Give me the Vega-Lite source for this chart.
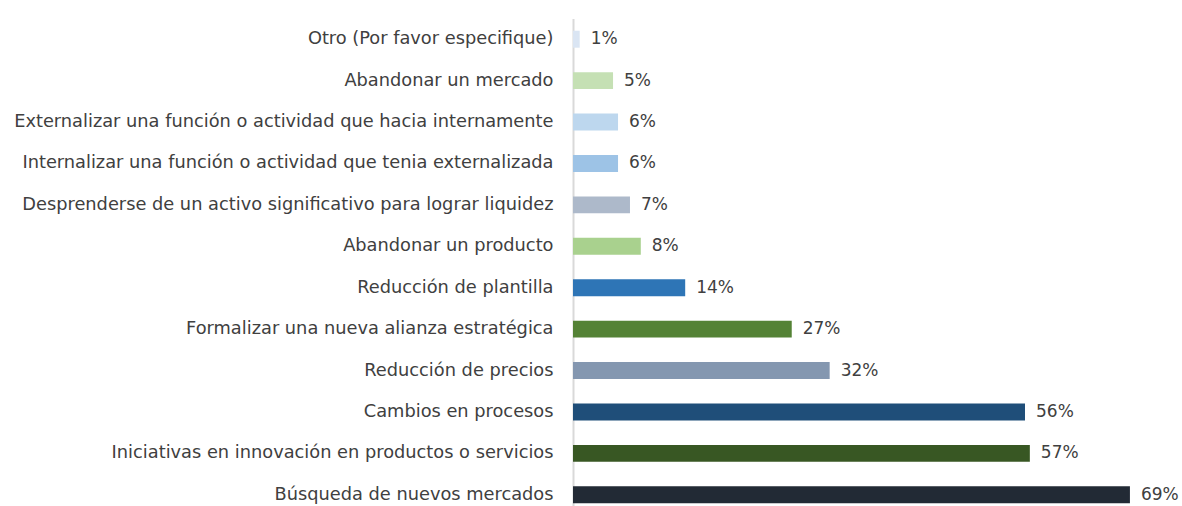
{
  "$schema": "https://vega.github.io/schema/vega-lite/v6.json",
  "width": 565,
  "height": 497,
  "autosize": {"type": "none"},
  "padding": {"left": 573, "top": 18.5, "right": 44, "bottom": 0},
  "background": "white",
  "config": {"view": {"stroke": null}, "font": "DejaVu Sans"},
  "data": {
    "values": [
      {"item": "Otro (Por favor especifique)", "value": 0.0083},
      {"item": "Abandonar un mercado", "value": 0.0496},
      {"item": "Externalizar una función o actividad que hacia internamente", "value": 0.0558},
      {"item": "Internalizar una función o actividad que tenia externalizada", "value": 0.0558},
      {"item": "Desprenderse de un activo significativo para lograr liquidez", "value": 0.0706},
      {"item": "Abandonar un producto", "value": 0.084},
      {"item": "Reducción de plantilla", "value": 0.139},
      {"item": "Formalizar una nueva alianza estratégica", "value": 0.271},
      {"item": "Reducción de precios", "value": 0.318},
      {"item": "Cambios en procesos", "value": 0.56},
      {"item": "Iniciativas en innovación en productos o servicios", "value": 0.566},
      {"item": "Búsqueda de nuevos mercados", "value": 0.69}
    ]
  },
  "encoding": {
    "y": {
      "field": "item",
      "type": "nominal",
      "sort": null,
      "scale": {"paddingInner": 0.59, "paddingOuter": 0.295},
      "axis": {
        "title": null,
        "ticks": false,
        "domainColor": "#d9d9d9",
        "domainWidth": 2,
        "labelFontSize": 17.8,
        "labelColor": "#404040",
        "labelPadding": 20,
        "labelLimit": 600,
        "labelFont": "DejaVu Sans"
      }
    },
    "x": {
      "field": "value",
      "type": "quantitative",
      "scale": {"domain": [0, 0.7], "nice": false},
      "axis": null
    }
  },
  "layer": [
    {
      "mark": {"type": "bar"},
      "encoding": {
        "color": {
          "field": "item",
          "type": "nominal",
          "legend": null,
          "scale": {
            "domain": [
              "Otro (Por favor especifique)",
              "Abandonar un mercado",
              "Externalizar una función o actividad que hacia internamente",
              "Internalizar una función o actividad que tenia externalizada",
              "Desprenderse de un activo significativo para lograr liquidez",
              "Abandonar un producto",
              "Reducción de plantilla",
              "Formalizar una nueva alianza estratégica",
              "Reducción de precios",
              "Cambios en procesos",
              "Iniciativas en innovación en productos o servicios",
              "Búsqueda de nuevos mercados"
            ],
            "range": ["#dae5f3", "#c5e0b4", "#bdd7ee", "#9dc3e6", "#adb9ca", "#a9d18e", "#2e75b6", "#548235", "#8497b0", "#1f4e79", "#385723", "#222a35"]
          }
        }
      }
    },
    {
      "mark": {"type": "text", "align": "left", "baseline": "middle", "dx": 11, "fontSize": 17, "color": "#404040", "font": "DejaVu Sans"},
      "encoding": {
        "text": {"field": "value", "type": "quantitative", "format": ".0%"}
      }
    }
  ]
}
